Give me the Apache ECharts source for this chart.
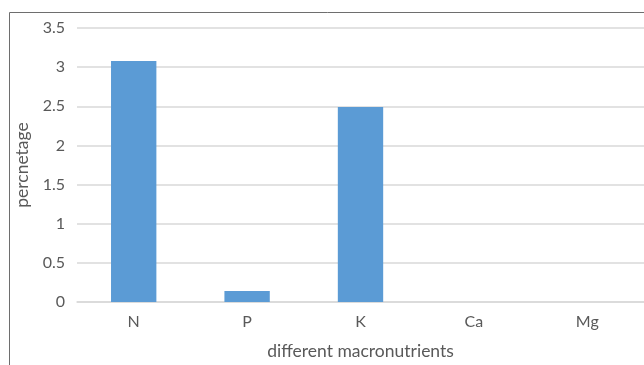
<!DOCTYPE html>
<html>
<head>
<meta charset="utf-8">
<script src="https://cdn.jsdelivr.net/npm/echarts@6/dist/echarts.min.js"></script>
<style>
  html, body { margin: 0; padding: 0; background: #fff; overflow: hidden; }
  #chart { width: 644px; height: 365px; }
</style>
</head>
<body>
<div id="chart"></div>
<script>
// Macronutrient content of the sample
const categories = ['N', 'P', 'K', 'Ca', 'Mg'];
const percentages = [3.08, 0.14, 2.49, 0, 0];
const yTicks = { min: 0, max: 3.5, interval: 0.5 };

const fontFamily = 'Lato, "Open Sans", "Liberation Sans", sans-serif';
const textColor = '#595959';

const chart = echarts.init(document.getElementById('chart'), null, { renderer: 'canvas', width: 644, height: 365 });

chart.setOption({
  animation: false,
  backgroundColor: '#ffffff',
  graphic: [{
    type: 'rect',
    shape: { x: 9.5, y: 12.5, width: 700, height: 400 },
    style: { fill: 'none', stroke: '#6e6e6e', lineWidth: 1 },
    z: -1
  }],
  grid: { left: 77, right: 0, top: 28, height: 278, containLabel: false },
  xAxis: {
    type: 'category',
    data: categories,
    name: 'different macronutrients',
    nameLocation: 'middle',
    nameGap: 40,
    nameTextStyle: { color: textColor, fontSize: 17.5, fontFamily },
    axisLine: { show: true, lineStyle: { color: '#d9d9d9', width: 1.5 } },
    axisTick: { show: false },
    axisLabel: { color: textColor, fontSize: 16, fontFamily, margin: 12 }
  },
  yAxis: {
    type: 'value',
    min: yTicks.min,
    max: yTicks.max,
    interval: yTicks.interval,
    name: 'percnetage',
    nameLocation: 'middle',
    nameGap: 40,
    nameRotate: 90,
    nameTextStyle: { color: textColor, fontSize: 17.5, fontFamily },
    axisLine: { show: false },
    axisTick: { show: false },
    axisLabel: { color: textColor, fontSize: 16, fontFamily, margin: 12 },
    splitLine: { lineStyle: { color: '#d9d9d9', width: 1.5 } }
  },
  series: [{
    type: 'bar',
    data: percentages,
    barWidth: '40%',
    itemStyle: { color: '#5b9bd5' }
  }]
});
</script>
</body>
</html>
